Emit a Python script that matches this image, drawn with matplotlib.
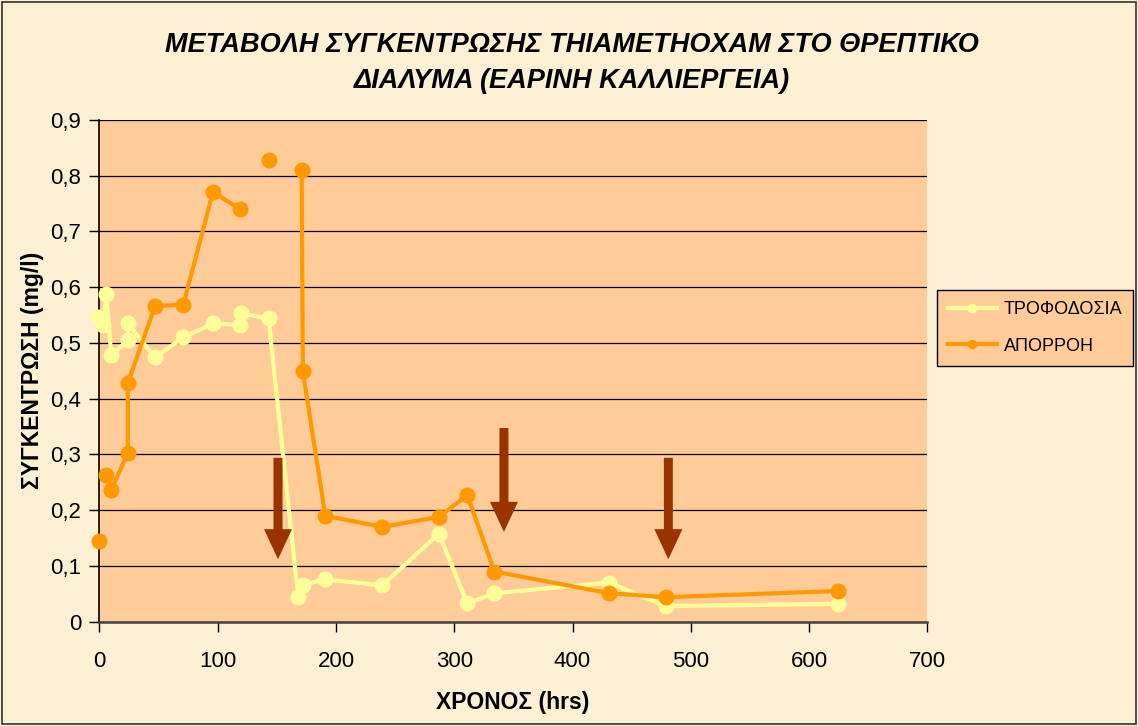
import numpy as np
import matplotlib
matplotlib.use("Agg")
import matplotlib.pyplot as plt
from matplotlib.patches import Rectangle

# ---- data ----
feed_label = "ΤΡΟΦΟΔΟΣΙΑ"
drain_label = "ΑΠΟΡΡΟΗ"

feed_time = [0, 3, 6, 10, 24, 24, 47, 71, 96, 119, 120, 143,
             168, 172, 191, 239, 287, 311, 334, 431, 479, 624]
feed_conc = [0.547, 0.532, 0.587, 0.478, 0.505, 0.535, 0.474, 0.510, 0.535,
             0.532, 0.553, 0.544, 0.045, 0.066, 0.076, 0.065, 0.158, 0.033,
             0.051, 0.070, 0.028, 0.032]

nan = np.nan
drain_time = [0, 3, 6, 10, 24, 24, 47, 71, 96, 119, 130, 143, 157,
              171, 172, 191, 239, 287, 311, 334, 431, 479, 624]
drain_conc = [0.144, nan, 0.264, 0.236, 0.303, 0.428, 0.566, 0.569, 0.771,
              0.740, nan, 0.828, nan, 0.810, 0.449, 0.190, 0.170, 0.188,
              0.227, 0.090, 0.051, 0.044, 0.055]

# marker arrows (time, top, tip)
arrow_time = [151, 342, 481]
arrow_top = [0.294, 0.3475, 0.294]
arrow_tip = [0.112, 0.161, 0.112]

x_ticks = [0, 100, 200, 300, 400, 500, 600, 700]
y_ticks = [0, 0.1, 0.2, 0.3, 0.4, 0.5, 0.6, 0.7, 0.8, 0.9]
y_tick_labels = ["0", "0,1", "0,2", "0,3", "0,4", "0,5", "0,6", "0,7", "0,8", "0,9"]

title = "ΜΕΤΑΒΟΛΗ ΣΥΓΚΕΝΤΡΩΣΗΣ ΤΗΙΑΜΕΤΗΟΧΑΜ ΣΤΟ ΘΡΕΠΤΙΚΟ\nΔΙΑΛΥΜΑ (ΕΑΡΙΝΗ ΚΑΛΛΙΕΡΓΕΙΑ)"
xlabel = "ΧΡΟΝΟΣ (hrs)"
ylabel = "ΣΥΓΚΕΝΤΡΩΣΗ (mg/l)"

# ---- style ----
plt.rcParams['font.family'] = ['Liberation Sans', 'DejaVu Sans']
W, H = 1138, 726
bg = '#FBF0D4'
plot_bg = '#FFCC99'
c_feed = '#FFFF99'
c_drain = '#FF9900'
c_arrow = '#993300'

fig = plt.figure(figsize=(W / 100, H / 100), dpi=100, facecolor=bg)
ax = fig.add_axes([99.4 / W, (H - 621.7) / H, 828 / W, 501.7 / H])
ax.set_facecolor(plot_bg)
ax.set_xlim(0, 700)
ax.set_ylim(0, 0.9)

ax.set_yticks(y_ticks)
ax.set_yticklabels(y_tick_labels)
ax.set_xticks(x_ticks)
ax.tick_params(axis='both', labelsize=16, direction='out', length=7,
               width=1, color='black', pad=6)
ax.tick_params(axis='x', pad=14)
ax.grid(axis='y', color='black', linewidth=0.9)
ax.set_axisbelow(True)
for s in ['top', 'right']:
    ax.spines[s].set_visible(False)
ax.spines['left'].set_color('black')
ax.spines['left'].set_linewidth(1.2)
ax.spines['bottom'].set_color('#444444')
ax.spines['bottom'].set_linewidth(1.8)

ax.plot(feed_time, feed_conc, color=c_feed, lw=3.0, marker='o', ms=10.5,
        mec=c_feed, mfc=c_feed, label=feed_label, zorder=3, clip_on=False)
ax.plot(drain_time, drain_conc, color=c_drain, lw=3.0, marker='o', ms=10.5,
        mec=c_drain, mfc=c_drain, label=drain_label, zorder=4, clip_on=False)

for t, top, tip in zip(arrow_time, arrow_top, arrow_tip):
    ax.arrow(t, top, 0, tip - top, width=7.6, head_width=23.7,
             head_length=0.054, length_includes_head=True,
             color=c_arrow, lw=0, zorder=5)

fig.text(572 / W, 1 - 63 / H, title, ha='center', va='center',
         fontsize=19.5, fontweight='bold', fontstyle='italic', linespacing=1.45)
fig.text(513 / W, 1 - 703 / H, xlabel, ha='center', va='center',
         fontsize=16.5, fontweight='bold')
fig.text(33 / W, 1 - 370 / H, ylabel, ha='center', va='center',
         rotation=90, fontsize=16.5, fontweight='bold')

leg = ax.legend(loc='upper left', bbox_to_anchor=(937 / W, 1 - 290 / H),
                bbox_transform=fig.transFigure, fontsize=13, frameon=True,
                fancybox=False, facecolor=plot_bg, edgecolor='black',
                framealpha=1, borderaxespad=0, handlelength=2.7,
                borderpad=0.6, labelspacing=1.1, handletextpad=0.4,
                markerscale=0.55)
leg.get_frame().set_linewidth(1.0)

fig.patches.append(Rectangle((2 / W, 2 / H), (W - 4) / W, (H - 4) / H,
                             transform=fig.transFigure, fill=False,
                             edgecolor='#333333', lw=1.2))

fig.savefig('out.png', dpi=100, facecolor=bg)
